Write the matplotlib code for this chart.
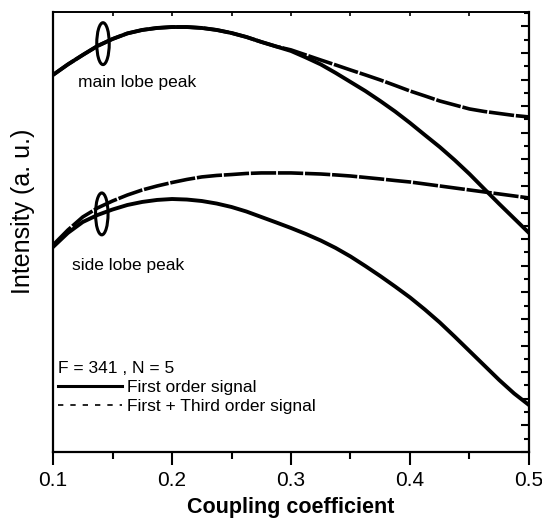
import matplotlib
matplotlib.use('Agg')
import matplotlib.pyplot as plt
from matplotlib.lines import Line2D
from matplotlib.patches import Ellipse
from matplotlib.ticker import MultipleLocator
import numpy as np

plt.rcParams['font.family'] = ['Liberation Sans', 'DejaVu Sans']

# coupling coefficient (read every 0.0125)
coupling = [0.1, 0.1125, 0.125, 0.1375, 0.15, 0.1625, 0.175, 0.1875, 0.2,
            0.2125, 0.225, 0.2375, 0.25, 0.2625, 0.275, 0.2875, 0.3,
            0.3125, 0.325, 0.3375, 0.35, 0.3625, 0.375, 0.3875, 0.4,
            0.4125, 0.425, 0.4375, 0.45, 0.4625, 0.475, 0.4875, 0.5]

# main lobe peak
main_first = [28.35, 29.14, 29.85, 30.53, 31.05, 31.47, 31.73, 31.88, 31.95,
              31.95, 31.88, 31.73, 31.5, 31.2, 30.83, 30.49, 30.15,
              29.66, 29.14, 28.5, 27.82, 27.14, 26.39, 25.6, 24.74,
              23.83, 22.93, 21.95, 20.9, 19.77, 18.65, 17.56, 16.47]
main_first_third = [28.35, 29.14, 29.85, 30.53, 31.05, 31.47, 31.73, 31.88, 31.95,
                    31.95, 31.88, 31.73, 31.5, 31.2, 30.83, 30.49, 30.23,
                    29.85, 29.47, 29.1, 28.72, 28.35, 27.97, 27.56, 27.14,
                    26.77, 26.39, 26.09, 25.79, 25.6, 25.45, 25.3, 25.19]

# side lobe peak
side_first = [15.41, 16.47, 17.29, 17.82, 18.23, 18.57, 18.8, 18.95, 19.02,
              18.98, 18.87, 18.68, 18.42, 18.08, 17.67, 17.26, 16.84,
              16.39, 15.9, 15.34, 14.7, 13.98, 13.23, 12.44, 11.62,
              10.71, 9.74, 8.68, 7.59, 6.5, 5.41, 4.4, 3.53]
side_first_third = [15.56, 16.69, 17.67, 18.35, 18.87, 19.32, 19.7, 20.0, 20.26,
                    20.49, 20.68, 20.79, 20.86, 20.94, 20.98, 20.98, 20.98,
                    20.94, 20.9, 20.83, 20.75, 20.64, 20.53, 20.41, 20.3,
                    20.15, 20.0, 19.85, 19.7, 19.55, 19.4, 19.25, 19.1]

xticks = [0.1, 0.2, 0.3, 0.4, 0.5]
xticklabels = ['0.1', '0.2', '0.3', '0.4', '0.5']

dash = (0, (7, 0.5))

fig = plt.figure(figsize=(5.42, 5.26), dpi=100)
ax = fig.add_axes([0.0978, 0.1407, 0.8782, 0.8365])

ax.plot(coupling, main_first, '-', color='k', lw=2.8)
ax.plot(coupling, main_first_third, linestyle=dash, color='k', lw=2.6)
ax.plot(coupling, side_first, '-', color='k', lw=2.8)
ax.plot(coupling, side_first_third, linestyle=dash, color='k', lw=2.6)

ax.set_xlim(0.1, 0.5)
ax.set_ylim(0, 33.08)

# ellipses marking the peaks
ax.add_patch(Ellipse((0.142, 30.7), 0.0105, 3.15, fill=False, lw=2.2, color='k'))
ax.add_patch(Ellipse((0.141, 17.9), 0.0105, 3.15, fill=False, lw=2.2, color='k'))

ax.text(0.121, 27.8, 'main lobe peak', fontsize=12.5, va='center', ha='left')
ax.text(0.116, 14.0, 'side lobe peak', fontsize=12.5, va='center', ha='left')

# legend
h1 = Line2D([], [], color='k', lw=2.2, linestyle='-')
h2 = Line2D([], [], color='k', lw=1.2, linestyle=(0, (3.2, 4.2)))
leg = ax.legend([h1, h2], ['First order signal', 'First + Third order signal'],
                title='F = 341 , N = 5', loc='upper left',
                bbox_to_anchor=(0.0105, 0.206), frameon=False, fontsize=12.5,
                title_fontsize=12.5, handlelength=3.7, handletextpad=0.3,
                labelspacing=0.2, borderpad=0, borderaxespad=0, alignment='left')

# axes / ticks
ax.set_xticks(xticks)
ax.set_xticklabels(xticklabels)
ax.xaxis.set_minor_locator(MultipleLocator(0.05))
ax.tick_params(axis='x', which='major', direction='out', length=9.5, width=1.5,
               labelsize=15, pad=4)
ax.tick_params(axis='x', which='minor', direction='out', length=5, width=1.5)

ax.yaxis.set_major_locator(MultipleLocator(2))
ax.yaxis.set_minor_locator(MultipleLocator(1))
ax.tick_params(axis='y', which='both', left=False, right=True, labelleft=False,
               direction='in', width=1.5)
ax.tick_params(axis='y', which='major', length=6)
ax.tick_params(axis='y', which='minor', length=3.5)

top = ax.secondary_xaxis('top')
top.set_xticks(xticks)
top.xaxis.set_minor_locator(MultipleLocator(0.05))
top.tick_params(axis='x', which='both', direction='in', length=3, width=1.2,
                labeltop=False)
top.spines['top'].set_linewidth(1.2)

for s in ['left', 'right', 'bottom']:
    ax.spines[s].set_linewidth(1.6)
ax.spines['top'].set_linewidth(1.2)

ax.set_xlabel('Coupling coefficient', fontsize=15.5, fontweight='bold', labelpad=5)
ax.set_ylabel('Intensity (a. u.)', fontsize=18)
ax.yaxis.set_label_coords(-0.038, 0.548)

plt.savefig('out.png', dpi=100)
